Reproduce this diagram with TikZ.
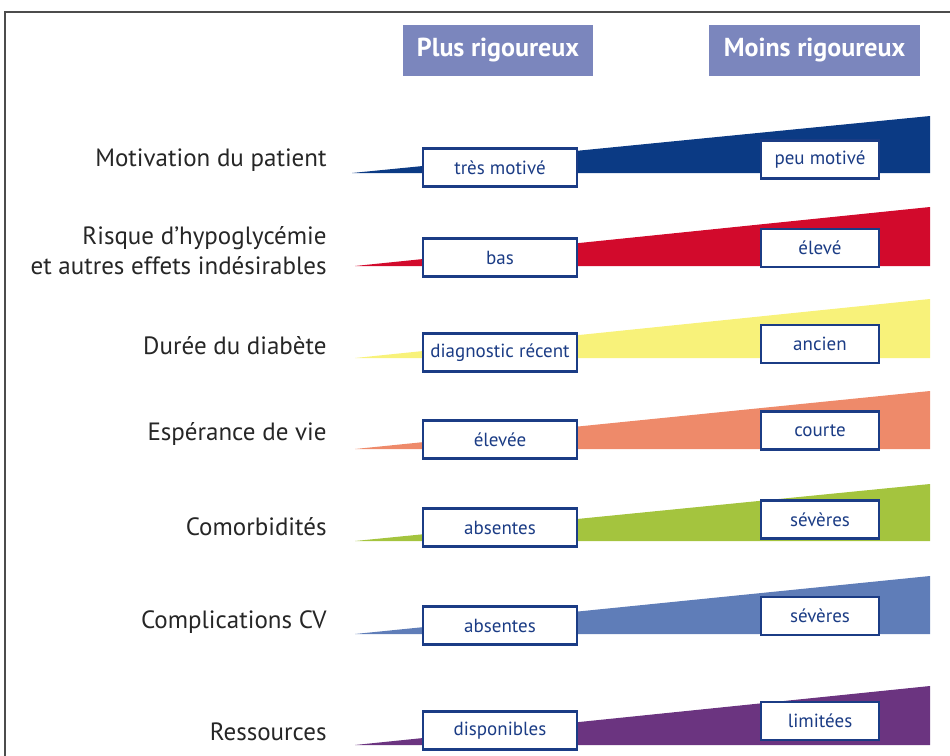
\documentclass[tikz,border=0pt]{standalone}
\usepackage{fontspec}
\setmainfont{PT Sans}
\usepackage{xcolor}
\usetikzlibrary{positioning}
\definecolor{headblue}{HTML}{7B86BD}
\definecolor{boxblue}{HTML}{1B3C85}
\definecolor{cnavy}{HTML}{0B3A84}
\definecolor{cred}{HTML}{D20A2C}
\definecolor{cyellow}{HTML}{F8F27A}
\definecolor{csalmon}{HTML}{EE8A6A}
\definecolor{cgreen}{HTML}{A4C43E}
\definecolor{cblue}{HTML}{5F7DB8}
\definecolor{cpurple}{HTML}{6B3480}

\begin{document}
\begin{tikzpicture}[x=0.5pt, y=-0.5pt,
  head/.style={fill=headblue, text=white, font=\bfseries\fontsize{13}{15}\selectfont, minimum width=95pt, minimum height=25.5pt, inner sep=0pt},
  lbl/.style={anchor=east, align=right, text=black!85, font=\fontsize{12.5}{15}\selectfont, inner sep=0pt},
  lvl/.style={draw=boxblue, line width=1.2pt, fill=white, text=boxblue, font=\fontsize{9.5}{11}\selectfont, minimum height=19pt, inner sep=0pt},
  lo/.style={lvl, minimum width=77pt},
  hi/.style={lvl, minimum width=59pt}]
  \useasboundingbox (0,0) rectangle (950,756);
  % frame
  \draw[black!70, line width=0.6pt] (5,756) -- (5,12) -- (950,12);
  % headers
  \node[head] (plus) at (498,50.5) {Plus rigoureux};
  \node[head, minimum width=105.5pt] (moins) at (814.5,50.5) {Moins rigoureux};
  % wedges
  \fill[cnavy] (352,173) -- (930,173) -- (930,116) -- cycle;
  \fill[cred] (355,266) -- (930,266) -- (930,207) -- cycle;
  \fill[cyellow] (355,358) -- (930,358) -- (930,299) -- cycle;
  \fill[csalmon] (355,449) -- (930,449) -- (930,391) -- cycle;
  \fill[cgreen] (355,541) -- (930,541) -- (930,484) -- cycle;
  \fill[cblue] (355,634) -- (930,634) -- (930,576) -- cycle;
  \fill[cpurple] (355,745) -- (930,745) -- (930,686) -- cycle;
  % criteria
  \node[lbl] (motiv) at (327,160) {Motivation du patient};
  \node[lbl] (risque) at (327,251) {Risque d'hypoglycémie\\et autres effets indésirables};
  \node[lbl] (duree) at (327,346) {Durée du diabète};
  \node[lbl] (esper) at (327,434) {Espérance de vie};
  \node[lbl] (comorb) at (327,527) {Comorbidités};
  \node[lbl] (compl) at (327,622) {Complications CV};
  \node[lbl] (ress) at (327,732) {Ressources};
  % levels
  \node[lo] (motiv_lo) at (500,167.5) {très motivé};
  \node[hi] (motiv_hi) at (820,159.5) {peu motivé};
  \node[lo] (risque_lo) at (500,257.5) {bas};
  \node[hi] (risque_hi) at (820,248) {élevé};
  \node[lo] (duree_lo) at (500,352.5) {diagnostic récent};
  \node[hi] (duree_hi) at (820,344) {ancien};
  \node[lo] (esper_lo) at (500,439.5) {élevée};
  \node[hi] (esper_hi) at (820,430.5) {courte};
  \node[lo] (comorb_lo) at (500,527.5) {absentes};
  \node[hi] (comorb_hi) at (820,519.5) {sévères};
  \node[lo] (compl_lo) at (500,625.5) {absentes};
  \node[hi] (compl_hi) at (820,616) {sévères};
  \node[lo] (ress_lo) at (500,730.5) {disponibles};
  \node[hi] (ress_hi) at (820,721) {limitées};
\end{tikzpicture}
\end{document}
